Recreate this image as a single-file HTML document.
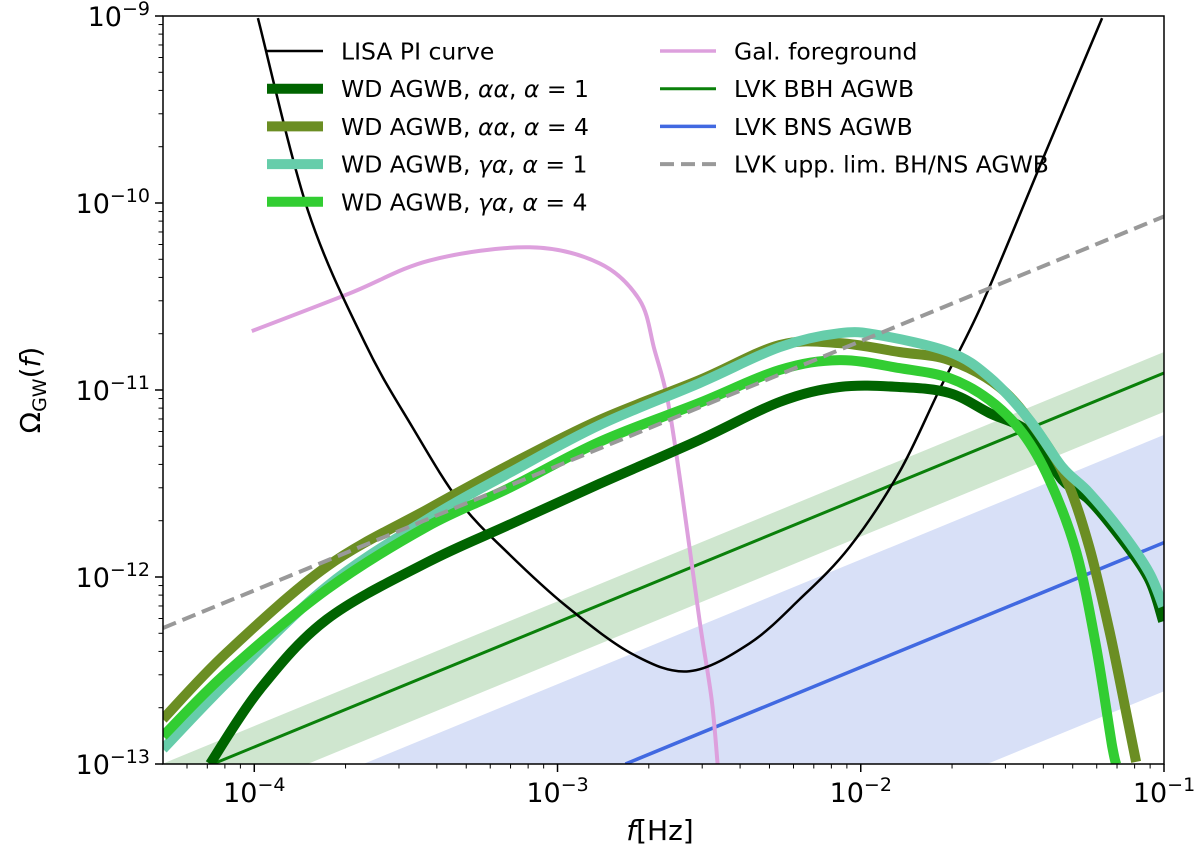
<!DOCTYPE html>
<html><head><meta charset="utf-8">
<style>
html,body{margin:0;padding:0;background:#fff;overflow:hidden;width:1200px;height:858px;}
svg{display:block;font-family:"DejaVu Sans","Liberation Sans",sans-serif;}
</style></head>
<body>
<svg id="chart" width="1200" height="858" viewBox="0 0 1200 858" xmlns="http://www.w3.org/2000/svg">
<defs><clipPath id="plotclip"><rect x="163" y="16" width="1001" height="748"/></clipPath></defs>
<g id="plot" clip-path="url(#plotclip)"></g>
<g id="axes"></g>
<g id="legend"></g>
</svg>
<script>
// x: log10 f, y: log10 Omega
const xDomain = [-4.301, -1];
const yDomain = [-13, -9];
const xTickExps = [-4, -3, -2, -1];
const yTickExps = [-13, -12, -11, -10, -9];

const lisaLogF = [-3.988,-3.823,-3.635,-3.477,-3.322,-3.158,-2.970,-2.752,-2.565,-2.367,-2.202,-2.037,-1.873,-1.741,-1.599,-1.388,-1.204];
const lisaLogO = [-9.011,-10.04,-10.749,-11.203,-11.6,-11.88,-12.157,-12.413,-12.504,-12.355,-12.12,-11.84,-11.44,-11.0,-10.536,-9.72,-9.011];

const galLogF = [-4.008,-3.685,-3.421,-3.092,-2.861,-2.729,-2.680,-2.637,-2.591,-2.532,-2.492,-2.472];
const galLogO = [-10.685,-10.483,-10.307,-10.237,-10.323,-10.52,-10.787,-11.053,-11.533,-12.227,-12.653,-13];

const wdGa1LogF = [-4.301,-4.090,-3.761,-3.431,-3.158,-2.861,-2.532,-2.268,-2.070,-1.939,-1.708,-1.576,-1.444,-1.336,-1.247,-1.138,-1.049,-1.003];
const wdGa1LogO = [-12.92,-12.563,-12.051,-11.693,-11.443,-11.187,-10.963,-10.771,-10.696,-10.707,-10.797,-10.931,-11.16,-11.411,-11.549,-11.763,-11.976,-12.157];

const wdAa4LogF = [-4.301,-4.090,-3.761,-3.431,-3.158,-2.861,-2.532,-2.268,-2.070,-1.873,-1.708,-1.543,-1.421,-1.322,-1.247,-1.181,-1.125,-1.092];
const wdAa4LogO = [-12.76,-12.403,-11.944,-11.64,-11.4,-11.16,-10.947,-10.76,-10.749,-10.797,-10.84,-10.984,-11.213,-11.48,-11.837,-12.28,-12.723,-12.989];

const wdGa4LogF = [-4.301,-4.090,-3.761,-3.431,-3.158,-2.861,-2.532,-2.268,-2.070,-1.873,-1.708,-1.576,-1.467,-1.378,-1.289,-1.224,-1.171,-1.158];
const wdGa4LogO = [-12.851,-12.509,-12.067,-11.731,-11.523,-11.277,-11.069,-10.893,-10.84,-10.883,-10.936,-11.053,-11.229,-11.48,-11.869,-12.371,-12.904,-13];

const wdAa1LogF = [-4.146,-3.981,-3.761,-3.431,-3.158,-2.861,-2.532,-2.268,-2.070,-1.873,-1.708,-1.576,-1.444,-1.336,-1.247,-1.138,-1.049,-1.003];
const wdAa1LogO = [-13,-12.6,-12.227,-11.923,-11.72,-11.501,-11.267,-11.064,-10.984,-10.984,-11.016,-11.123,-11.229,-11.48,-11.587,-11.8,-12.013,-12.237];

// power-law lines: log Omega at f=0.1, slope 2/3
const plSlope = 2/3;
const bbhAt01 = -10.909, bbhBandHi = -10.797, bbhBandLo = -11.117;
const bnsAt01 = -11.816, bnsBandHi = -11.24, bnsBandLo = -12.611;
const upperLimAt01 = -10.072;

const X0=163,X1=1164,Y0=764,Y1=16;
function xs(v){return X0+(v-xDomain[0])/(xDomain[1]-xDomain[0])*(X1-X0);}
function ys(v){return Y0-(v-yDomain[0])/(yDomain[1]-yDomain[0])*(Y0-Y1);}
const NS="http://www.w3.org/2000/svg";
function mk(tag,attrs,parent){const e=document.createElementNS(NS,tag);for(const k in attrs)e.setAttribute(k,attrs[k]);parent.appendChild(e);return e;}
const plot=document.getElementById('plot'),axes=document.getElementById('axes'),legend=document.getElementById('legend');

function plAt(a,lf){return a+plSlope*(lf-(-1));}
function cross(a){return -1+(yDomain[0]-a)/plSlope;}
function edgePts(a){ // points of a power law within the frame, left to right, clamped to bottom
  const pts=[];const lo=xDomain[0],hi=xDomain[1];const c=cross(a);
  pts.push([lo,Math.max(yDomain[0],plAt(a,lo))]);
  if(c>lo&&c<hi)pts.push([c,yDomain[0]]);
  pts.push([hi,Math.max(yDomain[0],plAt(a,hi))]);
  return pts;
}
function band(hi,lo,color,name){
  const p=edgePts(hi).concat(edgePts(lo).reverse());
  const e=mk('polygon',{points:p.map(q=>xs(q[0]).toFixed(1)+','+ys(q[1]).toFixed(1)).join(' '),fill:color},plot);
  
  
}
function plLine(a,color,w,name,dash){
  const s=Math.max(xDomain[0],cross(a));
  const e=mk('line',{x1:xs(s),y1:ys(plAt(a,s)),x2:xs(-1),y2:ys(a),stroke:color,'stroke-width':w},plot);
  if(dash)e.setAttribute('stroke-dasharray',dash);
  
  
}
function curve(lf,lo,color,w,name){
  const P=lf.map((v,i)=>[xs(v),ys(lo[i])]);
  let d='M'+P[0][0].toFixed(1)+','+P[0][1].toFixed(1);
  for(let i=0;i<P.length-1;i++){
    const p0=P[Math.max(0,i-1)],p1=P[i],p2=P[i+1],p3=P[Math.min(P.length-1,i+2)];
    const c1=[p1[0]+(p2[0]-p0[0])/6,Math.min(Y0,p1[1]+(p2[1]-p0[1])/6)];
    const c2=[p2[0]-(p3[0]-p1[0])/6,Math.min(Y0,p2[1]-(p3[1]-p1[1])/6)];
    d+=' C'+c1[0].toFixed(1)+','+c1[1].toFixed(1)+' '+c2[0].toFixed(1)+','+c2[1].toFixed(1)+' '+p2[0].toFixed(1)+','+p2[1].toFixed(1);
  }
  const e=mk('path',{d:d,fill:'none',stroke:color,'stroke-width':w,'stroke-linejoin':'round'},plot);
  
  
}
band(bnsBandHi,bnsBandLo,'#d8e0f7','bns-band');
band(bbhBandHi,bbhBandLo,'#cfe6cf','bbh-band');
plLine(bbhAt01,'#0a800a',3,'bbh-line');
plLine(bnsAt01,'#4169e1',3.5,'bns-line');
curve(galLogF,galLogO,'#dda0dd',4,'galactic-foreground-curve');
curve(lisaLogF,lisaLogO,'#000',2.5,'lisa-pi-curve');
curve(wdAa1LogF,wdAa1LogO,'#006400',10,'wd-aa-alpha1-curve');
curve(wdAa4LogF,wdAa4LogO,'#6b8e23',10,'wd-aa-alpha4-curve');
curve(wdGa1LogF,wdGa1LogO,'#66cdaa',10,'wd-ga-alpha1-curve');
curve(wdGa4LogF,wdGa4LogO,'#32cd32',10,'wd-ga-alpha4-curve');
plLine(upperLimAt01,'#999',4,'upper-limit-line','14,7');

const fr=mk('rect',{x:X0,y:Y1,width:X1-X0,height:Y0-Y1,fill:'none',stroke:'#000','stroke-width':1.5},axes);


for(let e=-5;e<=-1;e++){for(let m=1;m<10;m++){const v=e+Math.log10(m);if(v<xDomain[0]-1e-6||v>xDomain[1]+1e-6)continue;
  const t=mk('line',{x1:xs(v),x2:xs(v),y1:Y0,y2:Y0+(m===1?8:4.5),stroke:'#000','stroke-width':m===1?1.5:1},axes);
  
  }}
xTickExps.forEach(e=>{const t=mk('text',{x:xs(e),y:802,'text-anchor':'middle','font-size':27},axes);
  t.innerHTML='10<tspan dy="-11" font-size="19">−'+(-e)+'</tspan>';
  
  });
for(let e=-13;e<=-9;e++){for(let m=1;m<10;m++){const v=e+Math.log10(m);if(v>yDomain[1]+1e-6)continue;
  const t=mk('line',{x1:X0-(m===1?8:4.5),x2:X0,y1:ys(v),y2:ys(v),stroke:'#000','stroke-width':m===1?1.5:1},axes);
  
  }}
yTickExps.forEach(e=>{const t=mk('text',{x:150,y:ys(e)+10,'text-anchor':'end','font-size':27},axes);
  t.innerHTML='10<tspan dy="-11" font-size="19">−'+(-e)+'</tspan>';
  
  });
const xl=mk('text',{x:660,y:840,'text-anchor':'middle','font-size':28},axes);
xl.innerHTML='<tspan font-style="italic">f</tspan>[Hz]';


const yl=mk('text',{x:0,y:0,'text-anchor':'middle','font-size':28,transform:'translate(40,390) rotate(-90)'},axes);
yl.innerHTML='Ω<tspan font-size="19" dy="6">GW</tspan><tspan dy="-6">(</tspan><tspan font-style="italic">f</tspan>)';



const legLabels=['LISA PI curve','WD AGWB, <tspan font-style="italic">αα</tspan>, <tspan font-style="italic">α</tspan> = 1','WD AGWB, <tspan font-style="italic">αα</tspan>, <tspan font-style="italic">α</tspan> = 4','WD AGWB, <tspan font-style="italic">γα</tspan>, <tspan font-style="italic">α</tspan> = 1','WD AGWB, <tspan font-style="italic">γα</tspan>, <tspan font-style="italic">α</tspan> = 4','Gal. foreground','LVK BBH AGWB','LVK BNS AGWB','LVK upp. lim. BH/NS AGWB'];
const legColors=['#000','#006400','#6b8e23','#66cdaa','#32cd32','#dda0dd','#0a800a','#4169e1','#999'];
const legWidths=[2.5,10,10,10,10,3.5,3,3.5,4];
legLabels.forEach((lab,i)=>{
  const col=i<5?0:1,row=i<5?i:i-5;
  const lx=col?660:267,ty=51+row*37.7;
  const g=mk('g',{},legend);
  
  
  const ln=mk('line',{x1:lx,x2:lx+56,y1:ty,y2:ty,stroke:legColors[i],'stroke-width':legWidths[i]},g);
  if(i===8)ln.setAttribute('stroke-dasharray','14,7');
  const t=mk('text',{x:lx+74,y:ty+8.5,'font-size':23.5},g);
  t.innerHTML=lab;
});
</script>
</body></html>
